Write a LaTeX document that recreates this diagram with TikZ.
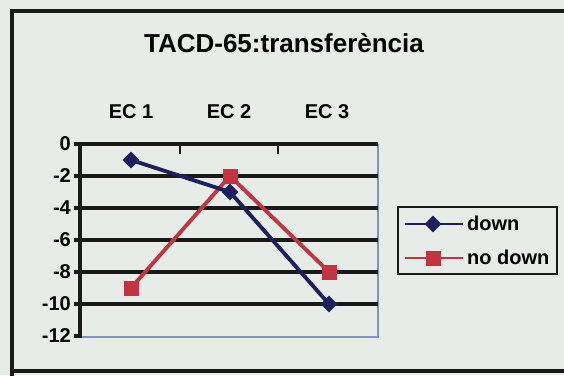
\documentclass[tikz,border=0pt]{standalone}
\usepackage{fontspec}
\setmainfont{Liberation Sans}
\usetikzlibrary{shapes.geometric}
\definecolor{bgc}{HTML}{E8ECE8}
\definecolor{navyc}{HTML}{1C1E5E}
\definecolor{redc}{HTML}{C23440}
\definecolor{borderc}{HTML}{8090C8}
\begin{document}
\begin{tikzpicture}[x=1pt,y=-1pt,
  lbl/.style={font=\bfseries\fontsize{20}{20}\selectfont, inner sep=0pt},
  gridln/.style={line width=3.4pt, black!90},
  dline/.style={line width=3.8pt, navyc},
  rline/.style={line width=3.8pt, redc},
  dmark/.style={diamond, fill=navyc, minimum width=17pt, minimum height=17pt, inner sep=0pt},
  rmark/.style={rectangle, fill=redc, minimum width=15pt, minimum height=15pt, inner sep=0pt}]
\useasboundingbox (0,0) rectangle (564,375);
\fill[bgc] (0,0) rectangle (564,375);
% outer frame
\draw[line width=3.4pt, black!90] (566,11) -- (12,11) -- (12,377);
\draw[line width=3.4pt, black!90] (12,371) -- (566,371);
% title
\node[font=\bfseries\fontsize{26}{26}\selectfont, inner sep=0pt] (title) at (284,43) {TACD-65:transferència};
% category labels
\node[lbl] (ec1) at (131,112) {EC 1};
\node[lbl] (ec2) at (229,112) {EC 2};
\node[lbl] (ec3) at (327,112) {EC 3};
% plot border (blue right & bottom)
\draw[line width=1.3pt, borderc] (80,337) -- (378,337) -- (378,144);
% grid lines
\foreach \v in {0,2,4,6,8,10} {
  \draw[gridln] (74,144+16*\v) -- (378,144+16*\v);
}
\draw[gridln] (74,336) -- (80,336);
% y labels
\foreach \v/\t in {0/0,2/-2,4/-4,6/-6,8/-8,10/-10,12/-12} {
  \node[lbl, anchor=east] (y\v) at (71,144+16*\v) {\t};
}
% left axis
\draw[gridln] (80,142.5) -- (80,337.5);
% x ticks
\draw[line width=2.4pt, black!90] (180,144) -- (180,154);
\draw[line width=2.4pt, black!90] (278,144) -- (278,154);
% series coordinates
\coordinate (d1) at (131,160);
\coordinate (d2) at (230,192);
\coordinate (d3) at (329,304);
\coordinate (n1) at (131,288);
\coordinate (n2) at (230,176);
\coordinate (n3) at (329,272);
\draw[rline] (n1) -- (n2) -- (n3);
\draw[dline] (d1) -- (d2) -- (d3);
\node[rmark] (rn1) at (n1) {};
\node[rmark] (rn2) at (n2) {};
\node[rmark] (rn3) at (n3) {};
\node[dmark] (dd1) at (d1) {};
\node[dmark] (dd2) at (d2) {};
\node[dmark] (dd3) at (d3) {};
% legend
\draw[line width=2.8pt, black!90] (398,207) rectangle (557,274);
\coordinate (la1) at (405,224);
\coordinate (la2) at (463,224);
\coordinate (lb1) at (405,258);
\coordinate (lb2) at (463,258);
\draw[line width=2.4pt, navyc] (la1) -- (la2);
\draw[line width=2.4pt, redc] (lb1) -- (lb2);
\node[dmark] (ld) at (433,224) {};
\node[rmark] (lr) at (433,258) {};
\node[lbl, anchor=west] (tdown) at (467,223) {down};
\node[lbl, anchor=west] (tnodown) at (467,257) {no down};
\end{tikzpicture}
\end{document}
